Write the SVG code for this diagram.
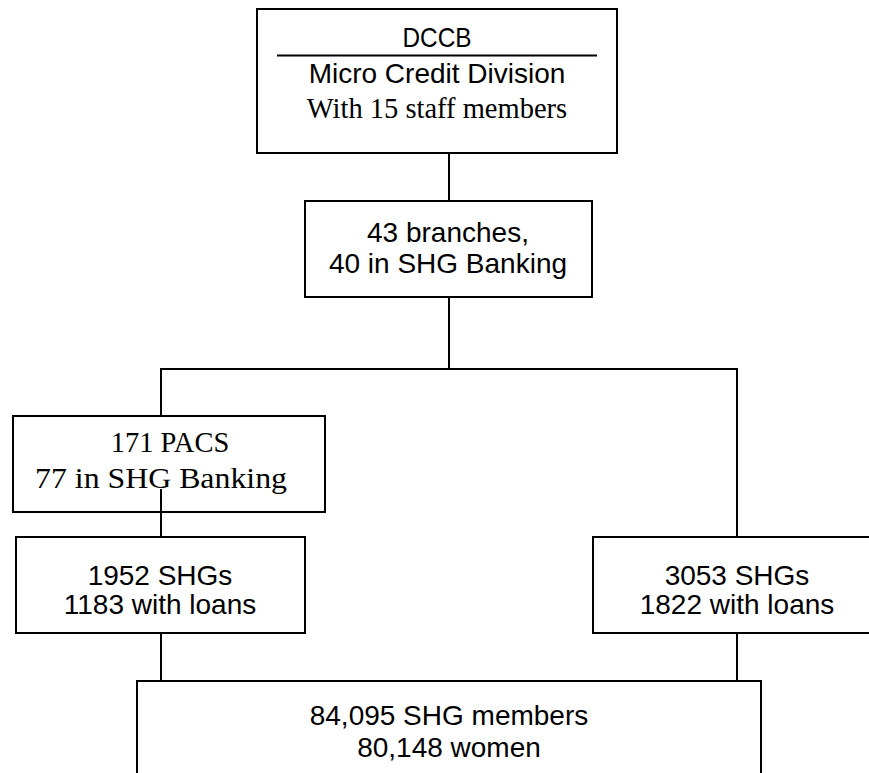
<svg xmlns="http://www.w3.org/2000/svg" width="869" height="773" viewBox="0 0 869 773">
<style>
.box{fill:#fff;stroke:#000;stroke-width:2}
.ln{stroke:#000;stroke-width:2;fill:none}
.s{font-family:"Liberation Sans",Arial,sans-serif;font-size:28px;fill:#000;text-anchor:middle}
.r{font-family:"Liberation Serif","Times New Roman",serif;font-size:28.5px;fill:#000;text-anchor:middle}
</style>
<rect width="869" height="773" fill="#fff"/>
<g id="connectors">
<line class="ln" x1="449" y1="153" x2="449" y2="201"/>
<line class="ln" x1="449" y1="297" x2="449" y2="369"/>
<polyline class="ln" points="161,416 161,369 737,369 737,537"/>
<line class="ln" x1="161" y1="633" x2="161" y2="681"/>
<line class="ln" x1="737" y1="633" x2="737" y2="681"/>
</g>
<g id="dccb">
<rect class="box" x="257" y="9" width="360" height="144"/>
<text class="s" x="437" y="47" textLength="69" lengthAdjust="spacingAndGlyphs">DCCB</text>
<line class="ln" x1="277" y1="55.5" x2="597" y2="55.5"/>
<text class="s" x="437" y="83">Micro Credit Division</text>
<text class="r" x="437" y="118">With 15 staff members</text>
</g>
<g id="branches">
<rect class="box" x="305" y="201" width="287" height="96"/>
<text class="s" x="448" y="242">43 branches,</text>
<text class="s" x="448" y="273">40 in SHG Banking</text>
</g>
<g id="pacs">
<rect class="box" x="13" y="416" width="312" height="96"/>
<text class="r" x="170" y="452">171 PACS</text>
<text class="r" x="161" y="488" textLength="252" lengthAdjust="spacingAndGlyphs">77 in SHG Banking</text>
<line class="ln" x1="161" y1="489" x2="161" y2="537"/>
</g>
<g id="shg-left">
<rect class="box" x="16" y="537" width="289" height="96"/>
<text class="s" x="160" y="585">1952 SHGs</text>
<text class="s" x="160" y="614">1183 with loans</text>
</g>
<g id="shg-right">
<rect class="box" x="593" y="537" width="288" height="96"/>
<text class="s" x="737" y="585">3053 SHGs</text>
<text class="s" x="737" y="614">1822 with loans</text>
</g>
<g id="members">
<rect class="box" x="137" y="681" width="624" height="120"/>
<text class="s" x="449" y="725">84,095 SHG members</text>
<text class="s" x="449" y="757">80,148 women</text>
</g>
</svg>
